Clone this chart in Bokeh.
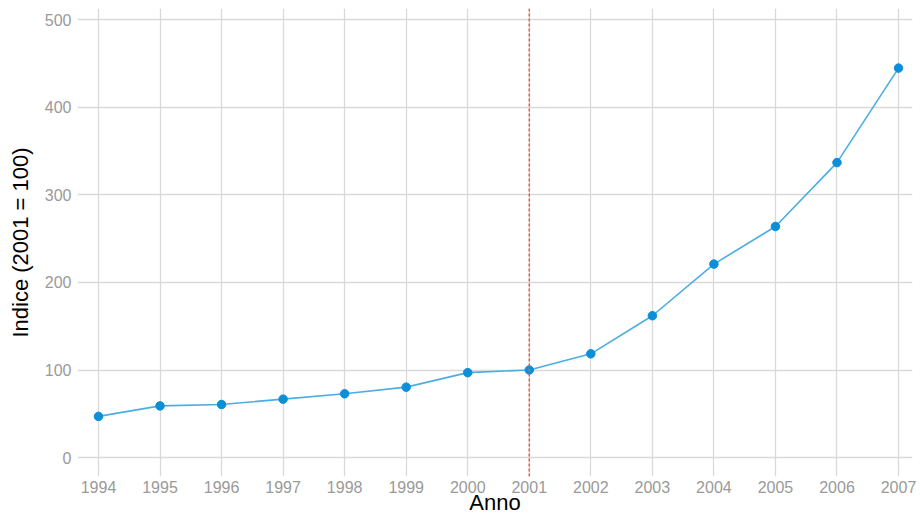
from bokeh.plotting import figure
from bokeh.models import Span, FixedTicker, Range1d
from bokeh.embed import file_html
from bokeh.resources import INLINE

years = [1994, 1995, 1996, 1997, 1998, 1999, 2000, 2001, 2002, 2003, 2004, 2005, 2006, 2007]
index_values = [47, 59, 60.6, 66.7, 72.8, 80.4, 97, 100, 118.5, 162, 221, 264, 337, 445]
y_ticks = [0, 100, 200, 300, 400, 500]
ref_year = 2001

FONT = "Liberation Sans"

p = figure(width=920, height=517, output_backend="svg", toolbar_location=None,
           x_range=Range1d(1993.659, 2007.227), y_range=Range1d(-21.7, 513.1),
           min_border_left=77, min_border_right=8, min_border_top=8, min_border_bottom=41)
p.outline_line_color = None
p.background_fill_color = "white"
p.border_fill_color = "white"

for ax in (p.xaxis[0], p.yaxis[0]):
    ax.axis_line_color = None
    ax.major_tick_line_color = None
    ax.minor_tick_line_color = None
    ax.major_tick_out = 0
    ax.major_tick_in = 0
    ax.minor_tick_out = 0
    ax.minor_tick_in = 0
    ax.major_label_text_font = FONT
    ax.major_label_text_font_size = "16px"
    ax.major_label_text_color = "#9a9a9a"
    ax.axis_label_text_font = FONT
    ax.axis_label_text_font_size = "22px"
    ax.axis_label_text_font_style = "normal"
    ax.axis_label_text_color = "black"

p.xaxis.ticker = FixedTicker(ticks=years)
p.yaxis.ticker = FixedTicker(ticks=y_ticks)
p.xaxis.axis_label = "Anno"
p.yaxis.axis_label = "Indice (2001 = 100)"
p.xaxis.major_label_standoff = 4
p.xaxis.axis_label_standoff = -6
p.yaxis.major_label_standoff = 6
p.yaxis.axis_label_standoff = 9

p.xgrid.ticker = FixedTicker(ticks=years)
p.ygrid.ticker = FixedTicker(ticks=y_ticks)
for g in (p.xgrid[0], p.ygrid[0]):
    g.grid_line_color = "#d9d9d9"
    g.grid_line_width = 1.3

p.add_layout(Span(location=ref_year, dimension="height", line_color="#f25a40",
                  line_dash="3 2", line_width=1.5))

p.line(years, index_values, line_color="#4aaee3", line_width=1.6)
p.scatter(years, index_values, size=8.5, fill_color="#0a8fd8", line_color="#0a8fd8")

open("out.html", "w").write(file_html(p, INLINE))
